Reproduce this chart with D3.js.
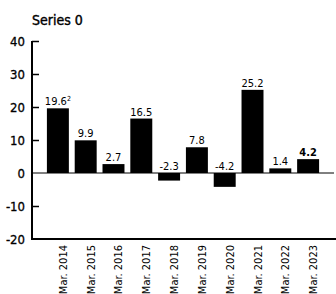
<!DOCTYPE html>
<html>
<head>
<meta charset="utf-8">
<script src="https://cdn.jsdelivr.net/npm/d3@7"></script>
<style>
  body { margin: 0; background: #fff; }
  text { font-family: "DejaVu Sans Condensed", "DejaVu Sans", sans-serif; font-stretch: condensed; fill: #000; }
</style>
</head>
<body>
<div id="chart"></div>
<script>
// data
var categories = ["Mar. 2014", "Mar. 2015", "Mar. 2016", "Mar. 2017", "Mar. 2018",
                  "Mar. 2019", "Mar. 2020", "Mar. 2021", "Mar. 2022", "Mar. 2023"];
var values = [19.6, 9.9, 2.7, 16.5, -2.3, 7.8, -4.2, 25.2, 1.4, 4.2];
var valueLabels = ["19.6", "9.9", "2.7", "16.5", "-2.3", "7.8", "-4.2", "25.2", "1.4", "4.2"];
var footnotes = ["2", "", "", "", "", "", "", "", "", ""];
var boldLabels = [false, false, false, false, false, false, false, false, false, true];
var yTicks = [-20, -10, 0, 10, 20, 30, 40];
var seriesName = "Series 0";

var width = 336, height = 294;

var svg = d3.select("#chart")
  .append("svg")
    .attr("width", width)
    .attr("height", height);

var x = d3.scaleBand()
    .domain(categories)
    .range([33, 333])
    .paddingInner(0.21)
    .paddingOuter(0.5);

var y = d3.scaleLinear()
    .domain([-20, 40])
    .range([239, 41]);

// title
svg.append("text")
    .attr("x", 32)
    .attr("y", 25)
    .style("font-size", "14px")
    .style("stroke", "#000")
    .style("stroke-width", 0.4)
    .text(seriesName);

// y axis
var yAxis = svg.append("g")
    .attr("transform", "translate(32,0)")
    .call(d3.axisLeft(y).tickValues(yTicks).tickSize(-7).tickPadding(7).tickFormat(function(d) { return String(d); }));
yAxis.select(".domain").remove();
yAxis.selectAll(".tick line")
    .attr("stroke", "#000")
    .attr("stroke-width", 1.5)
    .style("display", function(d) { return (d === 0 || d === -20) ? "none" : null; });
yAxis.selectAll(".tick text")
    .style("font-size", "13px")
    .style("font-family", "\"DejaVu Sans Condensed\", \"DejaVu Sans\", sans-serif")
    .style("stroke", "#000")
    .style("stroke-width", 0.3);

// bars
svg.selectAll(".bar")
  .data(values)
  .enter()
  .append("rect")
    .attr("class", "bar")
    .attr("x", function(d, i) { return x(categories[i]); })
    .attr("y", function(d) { return y(Math.max(0, d)); })
    .attr("width", x.bandwidth())
    .attr("height", function(d) { return Math.abs(y(d) - y(0)); })
    .attr("fill", "#000");

// zero line
svg.append("line")
    .attr("x1", 32).attr("x2", 334)
    .attr("y1", y(0)).attr("y2", y(0))
    .attr("stroke", "#000")
    .attr("stroke-width", 1);

// axis lines
svg.append("line")
    .attr("x1", 32).attr("x2", 32)
    .attr("y1", y(40)).attr("y2", y(-20) + 1)
    .attr("stroke", "#000")
    .attr("stroke-width", 2);
svg.append("line")
    .attr("x1", 31).attr("x2", 336)
    .attr("y1", y(-20)).attr("y2", y(-20))
    .attr("stroke", "#000")
    .attr("stroke-width", 2);

// value labels
var labels = svg.selectAll(".vlabel")
  .data(values)
  .enter()
  .append("text")
    .attr("class", "vlabel")
    .attr("x", function(d, i) { return x(categories[i]) + x.bandwidth() / 2; })
    .attr("y", function(d) { return y(Math.max(0, d)) - 3; })
    .attr("text-anchor", "middle")
    .style("font-size", "11px")
    .style("font-weight", function(d, i) { return boldLabels[i] ? "bold" : "normal"; });
labels.append("tspan").text(function(d, i) { return valueLabels[i]; });
labels.filter(function(d, i) { return footnotes[i] !== ""; })
  .append("tspan")
    .attr("dy", -4)
    .style("font-size", "7px")
    .text(function(d) { return footnotes[values.indexOf(d)]; });

// x labels
svg.selectAll(".xlabel")
  .data(categories)
  .enter()
  .append("text")
    .attr("class", "xlabel")
    .attr("transform", function(d) {
      return "translate(" + (x(d) + x.bandwidth() / 2 + 9) + ",245) rotate(-90)";
    })
    .attr("text-anchor", "end")
    .style("font-size", "11px")
    .text(function(d) { return d; });
</script>
</body>
</html>
